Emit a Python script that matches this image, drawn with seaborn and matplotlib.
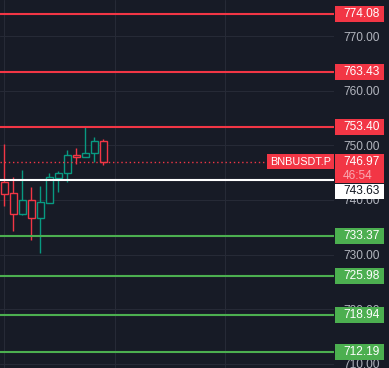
import matplotlib
matplotlib.use("Agg")
import matplotlib.pyplot as plt
import seaborn as sns
import numpy as np

# ---- data ----
opens  = [743.24, 741.22, 737.42, 740.00, 736.75, 739.50, 744.08, 744.88, 748.24, 747.93, 748.55, 750.75]
highs  = [750.25, 744.20, 745.49, 742.32, 742.56, 744.94, 745.36, 749.15, 749.52, 753.55, 751.54, 751.11]
lows   = [738.95, 734.36, 737.24, 732.71, 730.33, 739.50, 741.51, 743.29, 746.64, 747.93, 746.95, 746.41]
closes = [741.15, 737.48, 740.00, 736.75, 739.57, 744.15, 744.88, 748.18, 747.93, 748.55, 750.75, 746.97]

resistance_levels = [774.08, 763.43, 753.40]
support_levels = [733.37, 725.98, 718.94, 712.19]
pivot_level = 743.63
last_price = 746.97
symbol = "BNBUSDT.P"
countdown = "46:54"
tick_values = [710, 720, 730, 740, 750, 760, 770]
time_grid = [0, 12.25, 24.5]

# ---- style ----
BG = '#171B26'
GRID = '#262A36'
RED = '#F23645'
TEAL = '#089981'
GREEN = '#4CAF50'
TICK = '#B2B5BE'

sns.set_theme(style='dark', rc={'axes.facecolor': BG, 'figure.facecolor': BG,
                                'patch.edgecolor': 'none', 'patch.force_edgecolor': False})
plt.rcParams['font.family'] = ['Liberation Sans', 'DejaVu Sans']

W, H = 389, 368
fig = plt.figure(figsize=(W / 100, H / 100), dpi=100)
YLIM = (709.2, 776.65)
px_per_unit = H / (YLIM[1] - YLIM[0])

ax = fig.add_axes([0, 0, 334 / W, 1])
ax.set_facecolor(BG)
ax.set_ylim(*YLIM)
ax.set_xlim(-0.478, 36.63)
for s in ax.spines.values():
    s.set_visible(False)

ax.set_yticks(tick_values)
ax.set_yticklabels([f"{v:.2f}" for v in tick_values])
ax.yaxis.tick_right()
ax.tick_params(axis='y', length=0, pad=6.5, labelsize=8.6, labelcolor=TICK)
ax.set_xticks(time_grid)
ax.tick_params(axis='x', length=0, labelbottom=False)
ax.grid(True, color=GRID, linewidth=0.8)
ax.set_axisbelow(True)

# ---- candles (hollow) ----
x = np.arange(len(opens))
o = np.array(opens); c = np.array(closes)
cols = [TEAL if cc >= oo else RED for oo, cc in zip(o, c)]
ax.vlines(x, lows, highs, colors=cols, linewidth=1.0, zorder=2)
ax.bar(x, np.abs(c - o), bottom=np.minimum(o, c), width=0.72,
       facecolor=BG, edgecolor=cols, linewidth=1.0, zorder=3)

# ---- level lines ----
for v in resistance_levels:
    ax.axhline(v, color=RED, linewidth=1.5, zorder=4)
for v in support_levels:
    ax.axhline(v, color=GREEN, linewidth=1.5, zorder=4)
ax.axhline(pivot_level, color='white', linewidth=1.5, zorder=4)

# ---- overlay for price labels ----
ov = fig.add_axes([0, 0, 1, 1])
ov.set_xlim(0, W)
ov.set_ylim(*YLIM)
ov.axis('off')
ov.patch.set_alpha(0)

box_h = 16 / px_per_unit
FS = 8.6

ov.hlines(last_price, 0, 267, colors=RED, linestyles=(0, (1, 2)), linewidth=1.0)

def box(yc, left, width, height, color):
    ov.barh(yc, width, left=left, height=height, color=color,
            edgecolor='none', linewidth=0, zorder=5)

for v in resistance_levels:
    box(v, 335, 49, box_h, RED)
    ov.text(343, v, f"{v:.2f}", color='white', fontsize=FS, va='center', ha='left', zorder=6)
for v in support_levels:
    box(v, 335, 49, box_h, GREEN)
    ov.text(343, v, f"{v:.2f}", color='white', fontsize=FS, va='center', ha='left', zorder=6)

# last price box (two lines)
lp_top = last_price + 8 / px_per_unit
lp_bot = last_price - 21 / px_per_unit
box((lp_top + lp_bot) / 2, 335, 49, lp_top - lp_bot, RED)
ov.text(343, last_price, f"{last_price:.2f}", color='white', fontsize=FS, va='center', ha='left', zorder=6)
ov.text(343, last_price - 14 / px_per_unit, countdown, color='#F9A8B0', fontsize=FS,
        va='center', ha='left', zorder=6)

# symbol box
box(last_price, 267, 67, 15 / px_per_unit, RED)
ov.text(300.5, last_price, symbol, color='white', fontsize=7.8, va='center', ha='center', zorder=6)

# pivot label (pushed below the last-price box)
pv_top = lp_bot - 1 / px_per_unit
pv_c = pv_top - 7.5 / px_per_unit
box(pv_c, 335, 49, 15 / px_per_unit, 'white')
ov.text(343, pv_c, f"{pivot_level:.2f}", color='#131722', fontsize=FS, va='center', ha='left', zorder=6)

fig.savefig('out.png', dpi=100, facecolor=BG)
